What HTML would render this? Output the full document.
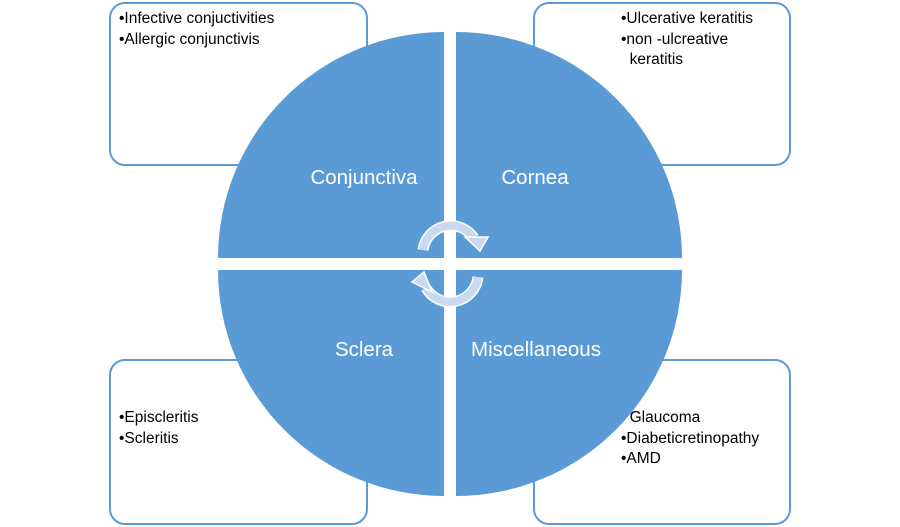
<!DOCTYPE html>
<html><head><style>
body{margin:0;width:900px;height:527px;background:#fff;overflow:hidden;position:relative;font-family:"Liberation Sans",sans-serif}
.box{position:absolute;width:256px;height:164px;border:2px solid #5b9bd5;border-radius:16px;box-sizing:border-box;background:#fff}
.t{position:absolute;font-size:15.5px;color:#000;line-height:20.5px;white-space:nowrap}
svg{position:absolute;left:0;top:0}
</style></head><body>
<div class="box" style="left:109px;top:2px;width:259px"></div>
<div class="box" style="left:533px;top:2px;width:258px"></div>
<div class="box" style="left:109px;top:359px;height:166px;width:259px"></div>
<div class="box" style="left:533px;top:359px;width:258px;height:166px"></div>
<svg width="900" height="527">
<g fill="#5b9bd5">
<path d="M444 258 L218 258 A226 226 0 0 1 444 32 Z"/>
<path d="M456 258 L456 32 A226 226 0 0 1 682 258 Z"/>
<path d="M444 270 L444 496 A226 226 0 0 1 218 270 Z"/>
<path d="M456 270 L682 270 A226 226 0 0 1 456 496 Z"/>
</g>
<g fill="none" stroke-linecap="butt">
<path d="M423 250 A28 28 0 0 1 474 238" stroke="#fff" stroke-width="11"/>
<path d="M423 250 A28 28 0 0 1 474 238" stroke="#c9d9ef" stroke-width="8"/>
<path d="M478 277 A28 28 0 0 1 426 288" stroke="#fff" stroke-width="11"/>
<path d="M478 277 A28 28 0 0 1 426 288" stroke="#c9d9ef" stroke-width="8"/>
</g>
<polygon points="465,237 488,237 480,251" fill="#c9d9ef" stroke="#fff" stroke-width="1.5"/>
<polygon points="412,282 424,272 432,292" fill="#c9d9ef" stroke="#fff" stroke-width="1.5"/>
<g fill="#fff" font-family="Liberation Sans, sans-serif" font-size="20.5" text-anchor="middle">
<text x="364" y="184">Conjunctiva</text>
<text x="535" y="184">Cornea</text>
<text x="364" y="356">Sclera</text>
<text x="536" y="356">Miscellaneous</text>
</g>
</svg>
<div class="t" style="left:119px;top:9px">•Infective conjuctivities<br>•Allergic conjunctivis</div>
<div class="t" style="left:621px;top:9px">•Ulcerative keratitis<br>•non -ulcreative<br>&nbsp;&nbsp;keratitis</div>
<div class="t" style="left:119px;top:408px">•Episcleritis<br>•Scleritis</div>
<div class="t" style="left:621px;top:408px">&nbsp;&nbsp;Glaucoma<br>•Diabeticretinopathy<br>•AMD</div>
</body></html>
